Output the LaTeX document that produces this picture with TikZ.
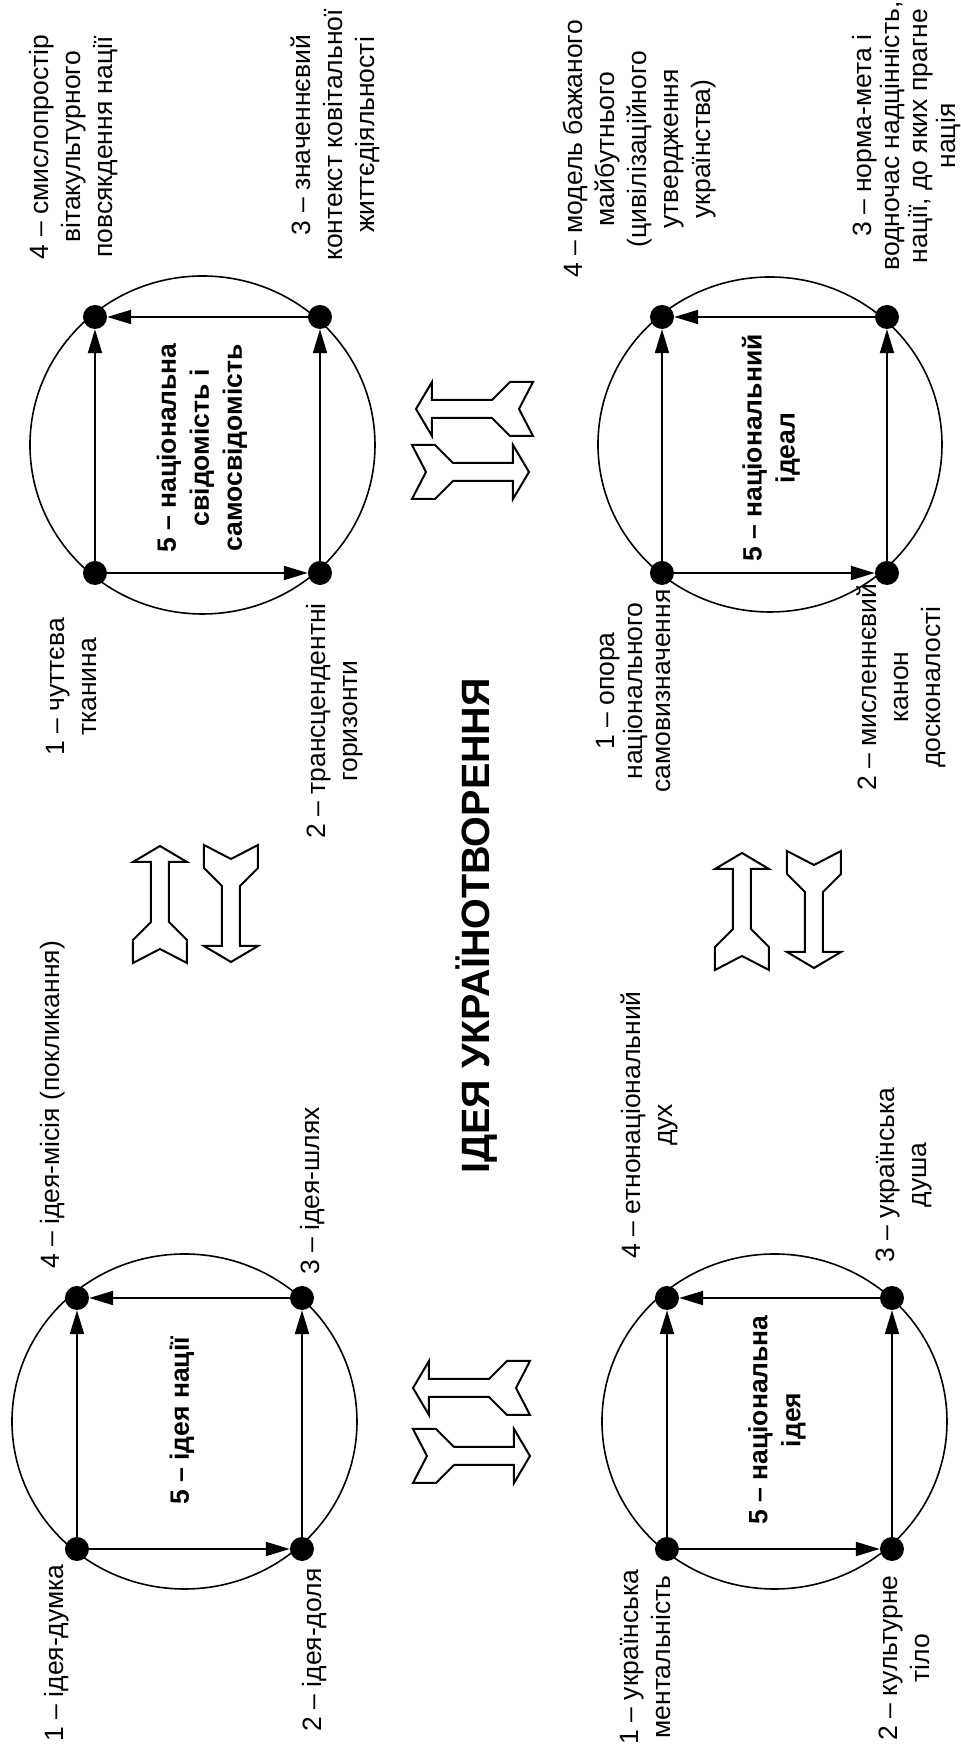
\documentclass[tikz,border=0pt]{standalone}
\usepackage{fontspec}
\setmainfont{Liberation Sans}
\usetikzlibrary{arrows.meta}

\tikzset{
  dot/.style={circle,fill,inner sep=0pt,minimum size=24pt},
  link/.style={line width=2pt,-{Triangle[length=24pt,width=14pt]}},
  ring/.style={line width=1.6pt},
  lbl/.style={align=center,inner sep=0pt,font=\fontsize{26.5}{32}\selectfont},
  core/.style={lbl,font=\fontsize{26.5}{33}\selectfont\bfseries},
  forkarrow/.pic={
    \draw[line width=2pt] (0,27) -- (23,27) -- (41,9) -- (101,9) -- (101,27) -- (117,0)
      -- (101,-27) -- (101,-9) -- (41,-9) -- (23,-27) -- (0,-27) -- (14,0) -- cycle;}
}

\begin{document}
\begin{tikzpicture}[x=1pt,y=1pt]
\begin{scope}[rotate=90,transform shape]
  \useasboundingbox (0,0) rectangle (1757,961);

  % rings
  \foreach \xa/\ya/\ru/\rv in {335.5/776.5/167.5/172.5, 335.5/186.5/167.5/172.5,
                               1312/758.5/169/172.5, 1312.5/191/167.5/172}
    \draw[ring] (\xa,\ya) ellipse [x radius=\ru, y radius=\rv];

  % corner points of the four squares
  \foreach \n/\xa/\ya in {a1/208/884,a2/208/659,a3/459/659,a4/459/884,
                          b1/208/294,b2/208/69,b3/459/69,b4/459/294,
                          c1/1184/866,c2/1184/641,c3/1440/641,c4/1440/866,
                          d1/1184/299,d2/1184/74,d3/1440/74,d4/1440/299}
    \node[dot] (\n) at (\xa,\ya) {};

  \foreach \g in {a,b,c,d} {
    \draw[link] (\g1) -- (\g2);
    \draw[link] (\g2) -- (\g3);
    \draw[link] (\g3) -- (\g4);
    \draw[link] (\g1) -- (\g4);
  }

  % idea of the nation
  \node[lbl] (la1) at (104,904) {1 -- ідея-думка};
  \node[lbl] (la2) at (107,646) {2 -- ідея-доля};
  \node[lbl] (la3) at (566,648) {3 -- ідея-шлях};
  \node[lbl] (la4) at (652,908) {4 -- ідея-місія (покликання)};
  \node[core] (la5) at (336,779) {5 -- ідея нації};

  % national idea
  \node[lbl] (lb1) at (100,315) {1 -- українська\\ментальність};
  \node[lbl] (lb2) at (99,57) {2 -- культурне\\тіло};
  \node[lbl] (lb3) at (582,57) {3 -- українська\\душа};
  \node[lbl] (lb4) at (632,312) {4 -- етнонаціональний\\дух};
  \node[core] (lb5) at (337,184) {5 -- національна\\ідея};

  % national consciousness
  \node[lbl] (lc1) at (1070,889) {1 -- чуттєва\\тканина};
  \node[lbl] (lc2) at (1036,626) {2 -- трансцендентні\\горизонти};
  \node[lbl] (lc3) at (1622,626) {3 -- значеннєвий\\контекст ковітальної\\життєдіяльності};
  \node[lbl] (lc4) at (1610,887) {4 -- смислопростір\\вітакультурного\\повсякдення нації};
  \node[core] (lc5) at (1309,759) {5 -- національна\\свідомість і\\самосвідомість};

  % national ideal
  \node[lbl,font=\fontsize{26.5}{28}\selectfont] (ld1) at (1066,327) {1 -- опора\\національного\\самовизначення};
  \node[lbl] (ld2) at (1070,60) {2 -- мисленнєвий\\канон\\досконалості};
  \node[lbl,font=\fontsize{26.5}{28}\selectfont] (ld3) at (1621,54)
    {3 -- норма-мета і\\водночас надцінність,\\нації, до яких прагне\\нація};
  \node[lbl] (ld4) at (1608,321) {4 -- модель бажаного\\майбутнього\\(цивілізаційного\\утвердження\\українства)};
  \node[core] (ld5) at (1309,190) {5 -- національний\\ідеал};

  \node[font=\fontsize{39.5}{44}\selectfont\bfseries,inner sep=0pt] (title) at (831,484) {ІДЕЯ УКРАЇНОТВОРЕННЯ};

  % two-way hollow arrows between the squares
  \foreach \xa/\ya/\ang in {794/801/0,912/730/180,787/219/0,906/147/180,
                            369/431/90,301/548/-90,1348/428/90,1285/549/-90}
    \pic[rotate=\ang] at (\xa,\ya) {forkarrow};
\end{scope}
\end{tikzpicture}
\end{document}
